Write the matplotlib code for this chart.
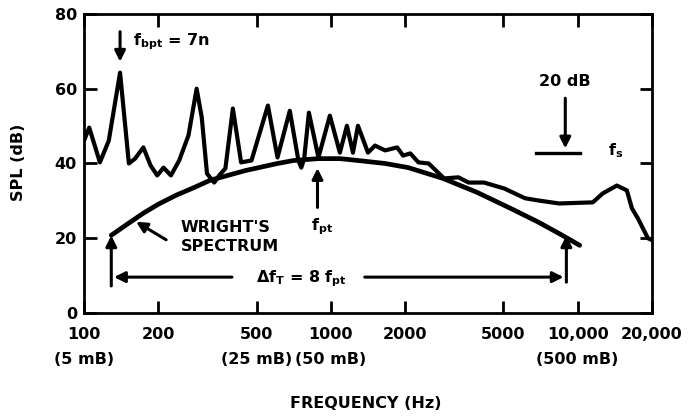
import matplotlib.pyplot as plt

# measured spectrum (Hz, dB)
meas_freq = [100, 105, 116, 126, 140, 152, 161, 174, 186, 198,
             210, 225, 243, 265, 286, 300, 315, 337, 353, 374,
             401, 433, 477, 556, 608, 682, 739, 759, 780, 815,
             891, 991, 1088, 1162, 1229, 1288, 1414, 1510, 1659, 1856,
             1963, 2098, 2264, 2492, 2716, 2876, 3287, 3616, 4174, 5048,
             6120, 6935, 8409, 11510, 12640, 14410, 15820, 16590, 17540, 19260,
             20000]
meas_db = [46.1, 49.6, 40.3, 46.1, 64.3, 40.0, 41.3, 44.3, 39.5, 36.8,
           38.9, 36.8, 40.8, 47.5, 60.0, 52.3, 37.3, 34.9, 36.8, 38.7,
           54.7, 40.3, 40.8, 55.5, 41.6, 54.1, 40.8, 38.9, 41.3, 53.6,
           41.6, 52.8, 42.9, 50.1, 42.9, 50.1, 42.9, 44.8, 43.5, 44.3,
           42.1, 42.7, 40.3, 40.0, 37.6, 36.0, 36.3, 34.9, 34.9, 33.3,
           30.7, 30.1, 29.3, 29.6, 32.0, 34.1, 32.8, 28.0, 25.3, 20.0,
           19.5]

# Wright's spectrum
wright_freq = [129, 150, 174, 200, 236, 280, 324, 450, 608, 707,
               891, 1088, 1288, 1659, 2058, 2848, 3904, 5345, 6935, 8657, 10190]
wright_db = [20.8, 23.8, 26.7, 29.1, 31.5, 33.6, 35.5, 38.1, 40.0, 40.8,
             41.3, 41.3, 40.8, 40.0, 38.9, 36.0, 32.3, 28.0, 24.3, 20.8, 18.1]

xticks = [100, 200, 500, 1000, 2000, 5000, 10000, 20000]
xticklabels = ['100', '200', '500', '1000', '2000', '5000', '10,000', '20,000']
mb_pos = [100, 500, 1000, 10000]
mb_labels = ['(5 mB)', '(25 mB)', '(50 mB)', '(500 mB)']
yticks = [0, 20, 40, 60, 80]

# markers for the bandwidth bracket
f_lo, f_hi = 129, 9000
f_bpt, f_pt = 140, 883

plt.rcParams['font.family'] = 'DejaVu Sans'
plt.rcParams['font.weight'] = 'bold'
plt.rcParams['mathtext.default'] = 'bf'
fs = 11.5

fig = plt.figure(figsize=(6.93, 4.16), dpi=100)
ax = fig.add_axes([0.1212, 0.2476, 0.8196, 0.7188])

ax.plot(meas_freq, meas_db, color='black', lw=3.0, solid_joinstyle='round')
ax.plot(wright_freq, wright_db, color='black', lw=3.4, solid_capstyle='round')

ax.set_xscale('log')
ax.set_xlim(100, 20000)
ax.set_ylim(0, 80)
ax.set_xticks(xticks)
ax.set_xticklabels(xticklabels, fontsize=fs, fontweight='bold')
ax.minorticks_off()
ax.set_yticks(yticks)
ax.set_yticklabels([str(v) for v in yticks], fontsize=fs, fontweight='bold')
ax.tick_params(direction='in', length=9, width=2, top=True, right=True)
ax.tick_params(axis='x', pad=10)
ax.tick_params(axis='y', pad=5)
for s in ax.spines.values():
    s.set_linewidth(2)

for x, t in zip(mb_pos, mb_labels):
    ax.text(x, -0.157, t, transform=ax.get_xaxis_transform(), ha='center',
            va='center', fontsize=fs, fontweight='bold')

fig.text(0.528, 0.031, 'FREQUENCY (Hz)', ha='center', va='center',
         fontsize=fs, fontweight='bold')
fig.text(0.026, 0.611, 'SPL (dB)', ha='center', va='center', rotation=90,
         fontsize=fs, fontweight='bold')

arr = dict(arrowstyle='-|>', color='black', lw=2.2, mutation_scale=16)

# blade passage tone
ax.annotate('', xy=(f_bpt, 66.5), xytext=(f_bpt, 76), arrowprops=arr)
ax.text(158, 72.5, r'$f_{bpt}$ = 7n', fontsize=fs, fontweight='bold',
        ha='left', va='center')

# peak frequency
ax.annotate('', xy=(f_pt, 39.5), xytext=(f_pt, 27.5), arrowprops=arr)
ax.text(924, 23.0, r'$f_{pt}$', fontsize=fs, ha='center', va='center')

# Wright's spectrum label
ax.annotate('', xy=(159, 24.8), xytext=(220, 19.2), arrowprops=arr)
ax.text(247, 20.3, "WRIGHT'S\nSPECTRUM", fontsize=fs, fontweight='bold',
        ha='left', va='center', linespacing=1.3)

# bandwidth bracket
ax.annotate('', xy=(f_lo, 21.5), xytext=(f_lo, 6.5), arrowprops=arr)
ax.annotate('', xy=(f_hi, 21.5), xytext=(f_hi, 7.5), arrowprops=arr)
ax.annotate('', xy=(f_lo, 9.6), xytext=(408, 9.6), arrowprops=arr)
ax.annotate('', xy=(f_hi, 9.6), xytext=(1337, 9.6), arrowprops=arr)
ax.text(760, 9.3, r'$\Delta f_T$ = 8 $f_{pt}$', fontsize=fs,
        ha='center', va='center')

# 20 dB marker
ax.text(8909, 62.0, '20 dB', fontsize=fs, fontweight='bold',
        ha='center', va='center')
ax.annotate('', xy=(8909, 43.3), xytext=(8909, 58.2), arrowprops=arr)
ax.plot([6800, 10190], [42.9, 42.9], color='black', lw=2.4)
ax.text(14270, 43.5, r'$f_s$', fontsize=fs, ha='center', va='center')

fig.savefig('out.png', dpi=100)
